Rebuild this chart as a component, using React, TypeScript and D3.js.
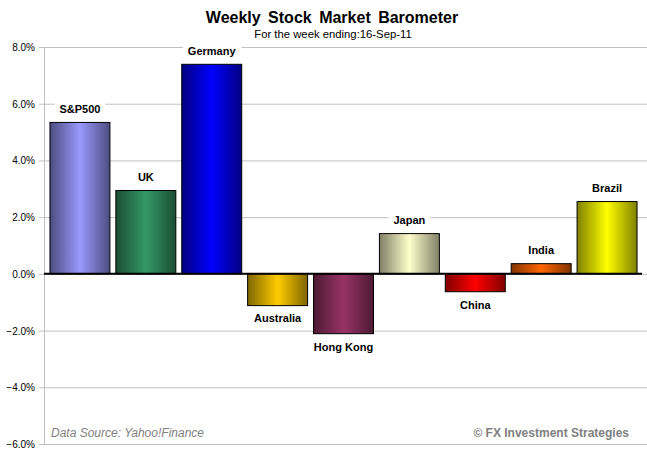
import * as d3 from "d3";
import { useEffect, useRef } from "react";

const markets = ["S&P500", "UK", "Germany", "Australia", "Hong Kong", "Japan", "China", "India", "Brazil"];
const changes = [5.34, 2.94, 7.39, -1.12, -2.11, 1.42, -0.63, 0.36, 2.55];
const centerColors = ["#9999ff", "#339966", "#0000ff", "#ffcc00", "#993366", "#ffffcc", "#ff0000", "#ff6600", "#ffff00"];
const edgeColors = ["#4d4d80", "#1a4d33", "#000080", "#806600", "#4d1a33", "#808066", "#800000", "#803300", "#808000"];
const yTicks = [-6, -4, -2, 0, 2, 4, 6, 8];

export default function App() {
  const ref = useRef<SVGSVGElement>(null);

  useEffect(() => {
    document.body.style.margin = "0";
    const width = 647;
    const height = 458;
    const marginLeft = 44;
    const font = "'Liberation Sans', Arial, sans-serif";

    const svg = d3.select(ref.current);
    svg.selectAll("*").remove();

    const x = d3.scaleBand<string>()
      .domain(markets)
      .range([47, 640])
      .paddingInner(0.09)
      .paddingOuter(0.045);

    const y = d3.scaleLinear().domain([-6, 8]).range([444, 47]);

    const defs = svg.append("defs");
    markets.forEach((m, i) => {
      const g = defs.append("linearGradient")
        .attr("id", "grad" + i)
        .attr("x1", "0%").attr("x2", "100%")
        .attr("y1", "0%").attr("y2", "0%");
      g.append("stop").attr("offset", "0%").attr("stop-color", edgeColors[i]);
      g.append("stop").attr("offset", "50%").attr("stop-color", centerColors[i]);
      g.append("stop").attr("offset", "100%").attr("stop-color", edgeColors[i]);
    });

    svg.append("rect").attr("width", width).attr("height", height).attr("fill", "#fff");

    // gridlines
    svg.append("g")
      .selectAll("line")
      .data(yTicks)
      .join("line")
      .attr("x1", marginLeft - 5)
      .attr("x2", width)
      .attr("y1", d => y(d) + 0.5)
      .attr("y2", d => y(d) + 0.5)
      .attr("stroke", "#c0c0c0")
      .attr("stroke-width", 1);

    // y axis line
    svg.append("line")
      .attr("x1", marginLeft + 0.5).attr("x2", marginLeft + 0.5)
      .attr("y1", y(8)).attr("y2", y(-6))
      .attr("stroke", "#c0c0c0");

    svg.append("g")
      .selectAll("text")
      .data(yTicks)
      .join("text")
      .attr("x", 35)
      .attr("y", d => y(d) + 4)
      .attr("text-anchor", "end")
      .attr("font-family", font)
      .attr("font-size", 10)
      .attr("fill", "#000")
      .text(d => d3.format(".1f")(d) + "%");

    // labels with white backgrounds (interrupt gridlines)
    const labels = svg.append("g");
    markets.forEach((m, i) => {
      const v = changes[i];
      const cx = x(m)! + x.bandwidth() / 2;
      const ly = v >= 0 ? y(v) - 13 : y(v) + 13;
      const t = labels.append("text")
        .attr("x", cx)
        .attr("y", ly)
        .attr("dy", "0.35em")
        .attr("text-anchor", "middle")
        .attr("font-family", font)
        .attr("font-size", 11)
        .attr("font-weight", "bold")
        .attr("fill", "#000")
        .text(m);
      const bb = (t.node() as SVGTextElement).getBBox();
      labels.insert("rect", "text")
        .attr("x", bb.x - 5)
        .attr("y", bb.y - 1)
        .attr("width", bb.width + 10)
        .attr("height", bb.height + 2)
        .attr("fill", "#fff");
    });

    svg.append("g")
      .selectAll("rect")
      .data(markets)
      .join("rect")
      .attr("x", d => x(d)!)
      .attr("width", x.bandwidth())
      .attr("y", (d, i) => y(Math.max(0, changes[i])))
      .attr("height", (d, i) => Math.abs(y(changes[i]) - y(0)))
      .attr("fill", (d, i) => `url(#grad${i})`)
      .attr("stroke", "#000")
      .attr("stroke-width", 1);

    // zero line
    svg.append("line")
      .attr("x1", marginLeft).attr("x2", 642)
      .attr("y1", y(0)).attr("y2", y(0))
      .attr("stroke", "#000")
      .attr("stroke-width", 2);

    svg.append("text")
      .attr("x", 332).attr("y", 23)
      .attr("text-anchor", "middle")
      .attr("font-family", font)
      .attr("font-size", 16)
      .attr("font-weight", "bold")
      .attr("word-spacing", 3)
      .text("Weekly Stock Market Barometer");

    svg.append("text")
      .attr("x", 333).attr("y", 38)
      .attr("text-anchor", "middle")
      .attr("font-family", font)
      .attr("font-size", 11.3)
      .text("For the week ending:16-Sep-11");

    svg.append("text")
      .attr("x", 51).attr("y", 437)
      .attr("font-family", font)
      .attr("font-size", 12)
      .attr("font-style", "italic")
      .attr("fill", "#808080")
      .text("Data Source: Yahoo!Finance");

    svg.append("text")
      .attr("x", 629).attr("y", 437)
      .attr("text-anchor", "end")
      .attr("font-family", font)
      .attr("font-size", 12)
      .attr("font-weight", "bold")
      .attr("fill", "#808080")
      .text("©  FX Investment Strategies");
  }, []);

  return <svg ref={ref} width={647} height={458} style={{ display: "block" }} />;
}
